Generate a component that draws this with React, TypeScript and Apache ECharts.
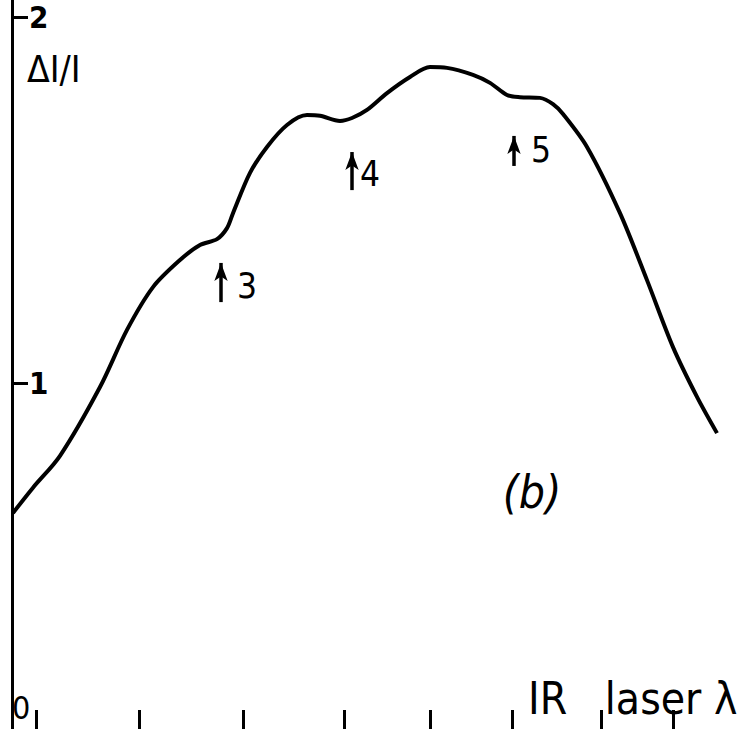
import React, { useEffect, useRef } from "react";
import * as echarts from "echarts";

// Curve: x in arbitrary wavelength units, y = ΔI/I
const xValues = [0.01, 0.21, 0.48, 0.88, 1.15, 1.41, 1.68, 1.88, 2.05, 2.15, 2.21, 2.38, 2.55, 2.75, 2.95, 3.08, 3.28, 3.4, 3.55, 3.75, 3.98, 4.18, 4.35, 4.61, 4.78, 4.95, 5.08, 5.28, 5.41, 5.51, 5.75, 6.08, 6.35, 6.61, 6.85, 7.05];
const yValues = [0.645, 0.714, 0.801, 0.989, 1.145, 1.262, 1.336, 1.377, 1.393, 1.423, 1.464, 1.574, 1.645, 1.705, 1.732, 1.73, 1.716, 1.724, 1.746, 1.792, 1.836, 1.863, 1.861, 1.842, 1.82, 1.787, 1.781, 1.779, 1.762, 1.735, 1.645, 1.464, 1.281, 1.098, 0.962, 0.863];

const yTickValues = [1, 2];
const xTickValues = [0.24, 1.27, 2.31, 3.32, 4.18, 5.0, 5.89, 6.61];

// annotated features: arrow x, arrow bottom, arrow top, label position
const peakLabels = ["3", "4", "5"];
const arrowX = [2.09, 3.4, 5.02];
const arrowBottom = [1.221, 1.527, 1.593];
const arrowTop = [1.328, 1.631, 1.675];
const labelX = [2.35, 3.58, 5.29];
const labelY = [1.265, 1.571, 1.637];

const FONT = '"DejaVu Sans Condensed", "Liberation Sans Narrow", "DejaVu Sans", sans-serif';

export default function App() {
  const ref = useRef<HTMLDivElement>(null);
  useEffect(() => {
    if (!ref.current) return;
    const chart = echarts.init(ref.current, null, { renderer: "svg" });
    const data = xValues.map((x, i) => [x, yValues[i]]);
    chart.setOption({
      animation: false,
      backgroundColor: "#fff",
      grid: { left: 12, right: 0, top: 0, bottom: 0 },
      xAxis: {
        type: "value",
        min: 0,
        max: 7.38,
        axisLine: { show: false },
        splitLine: { show: false },
        axisLabel: { show: false },
        axisTick: {
          show: true,
          inside: true,
          length: 19,
          customValues: xTickValues,
          lineStyle: { color: "#000", width: 3 },
        },
      },
      yAxis: {
        type: "value",
        min: 0.0546,
        max: 2.0464,
        axisLine: { show: true, lineStyle: { color: "#000", width: 3 } },
        splitLine: { show: false },
        axisTick: {
          show: true,
          inside: true,
          length: 16,
          customValues: yTickValues,
          lineStyle: { color: "#000", width: 3 },
        },
        axisLabel: {
          show: true,
          inside: true,
          margin: 17,
          customValues: yTickValues,
          color: "#000",
          fontSize: 31,
          fontFamily: FONT,
          fontWeight: "bold",
        },
      },
      graphic: [
        { type: "text", left: 27, top: 51, style: { text: "ΔI/I", fontSize: 37, fontFamily: FONT, fill: "#000" } },
        { type: "text", left: 12, top: 692, style: { text: "0", fontSize: 32, fontFamily: FONT, fill: "#000" } },
        { type: "text", left: 528, top: 676, style: { text: "IR   laser λ", fontSize: 44, fontFamily: FONT, fill: "#000" } },
      ],
      series: [
        {
          type: "line",
          data,
          smooth: 0.3,
          showSymbol: false,
          symbol: "none",
          lineStyle: { color: "#000", width: 4 },
          markLine: {
            silent: true,
            symbol: ["none", "arrow"],
            symbolSize: [10, 18],
            label: { show: false },
            lineStyle: { color: "#000", width: 3.5, type: "solid" },
            data: arrowX.map((x, i) => [
              { coord: [x, arrowBottom[i]] },
              { coord: [x, arrowTop[i]] },
            ]),
          },
          markPoint: {
            silent: true,
            symbol: "circle",
            symbolSize: 1,
            itemStyle: { color: "rgba(0,0,0,0)" },
            label: { show: true, position: "inside", color: "#000", fontSize: 35, fontFamily: FONT },
            data: [
              ...peakLabels.map((t, i) => ({ coord: [labelX[i], labelY[i]], label: { formatter: t } })),
              {
                coord: [5.2, 0.702],
                label: { formatter: "(b)", fontSize: 46, fontStyle: "italic" },
              },
            ],
          },
        },
      ],
    });
    return () => chart.dispose();
  }, []);
  return <div ref={ref} style={{ position: "fixed", left: 0, top: 0, width: 750, height: 729 }} />;
}
